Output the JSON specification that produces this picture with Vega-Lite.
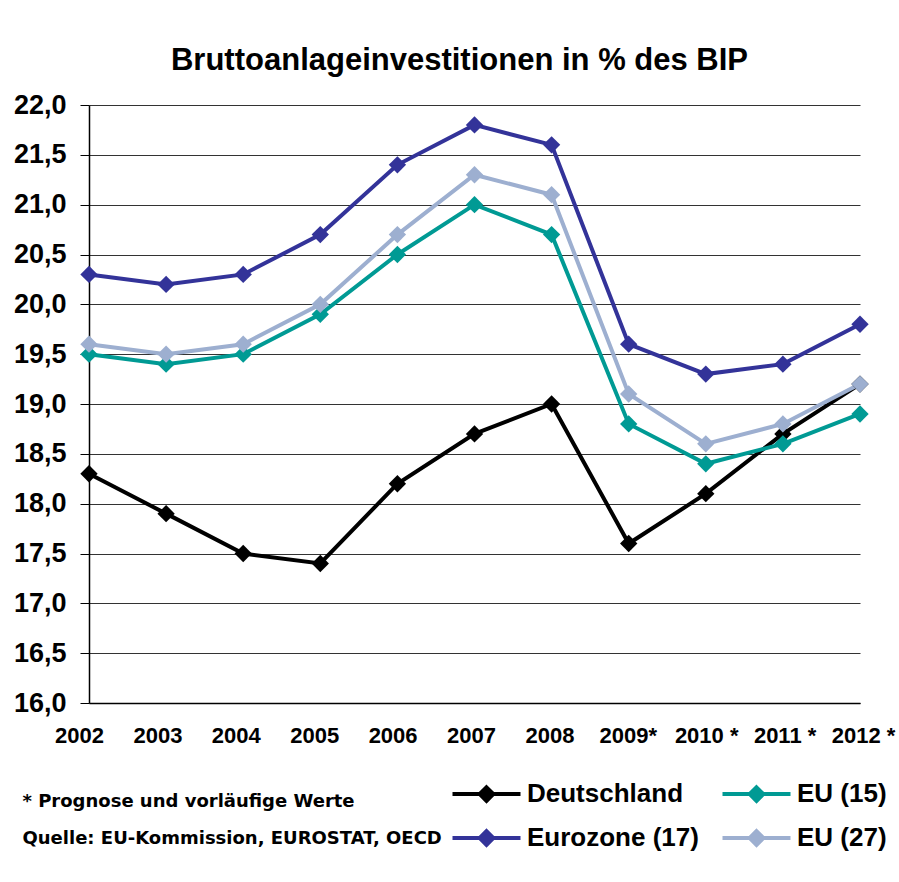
{
  "$schema": "https://vega.github.io/schema/vega-lite/v6.json",
  "width": 771,
  "height": 598,
  "autosize": {"type": "none"},
  "padding": {"left": 89, "top": 105, "right": 39, "bottom": 179},
  "background": "white",
  "config": {"view": {"stroke": null}, "font": "Liberation Sans"},
  "title": {"text": "Bruttoanlageinvestitionen in % des BIP", "fontSize": 31, "font": "Liberation Sans", "fontWeight": "bold", "color": "black", "offset": 14, "dx": -15, "anchor": "middle"},
  "data": {"values": [
    {"year": "2002", "series": "Deutschland", "value": 18.3},
    {"year": "2003", "series": "Deutschland", "value": 17.9},
    {"year": "2004", "series": "Deutschland", "value": 17.5},
    {"year": "2005", "series": "Deutschland", "value": 17.4},
    {"year": "2006", "series": "Deutschland", "value": 18.2},
    {"year": "2007", "series": "Deutschland", "value": 18.7},
    {"year": "2008", "series": "Deutschland", "value": 19.0},
    {"year": "2009*", "series": "Deutschland", "value": 17.6},
    {"year": "2010 *", "series": "Deutschland", "value": 18.1},
    {"year": "2011 *", "series": "Deutschland", "value": 18.7},
    {"year": "2012 *", "series": "Deutschland", "value": 19.2},
    {"year": "2002", "series": "EU (15)", "value": 19.5},
    {"year": "2003", "series": "EU (15)", "value": 19.4},
    {"year": "2004", "series": "EU (15)", "value": 19.5},
    {"year": "2005", "series": "EU (15)", "value": 19.9},
    {"year": "2006", "series": "EU (15)", "value": 20.5},
    {"year": "2007", "series": "EU (15)", "value": 21.0},
    {"year": "2008", "series": "EU (15)", "value": 20.7},
    {"year": "2009*", "series": "EU (15)", "value": 18.8},
    {"year": "2010 *", "series": "EU (15)", "value": 18.4},
    {"year": "2011 *", "series": "EU (15)", "value": 18.6},
    {"year": "2012 *", "series": "EU (15)", "value": 18.9},
    {"year": "2002", "series": "Eurozone (17)", "value": 20.3},
    {"year": "2003", "series": "Eurozone (17)", "value": 20.2},
    {"year": "2004", "series": "Eurozone (17)", "value": 20.3},
    {"year": "2005", "series": "Eurozone (17)", "value": 20.7},
    {"year": "2006", "series": "Eurozone (17)", "value": 21.4},
    {"year": "2007", "series": "Eurozone (17)", "value": 21.8},
    {"year": "2008", "series": "Eurozone (17)", "value": 21.6},
    {"year": "2009*", "series": "Eurozone (17)", "value": 19.6},
    {"year": "2010 *", "series": "Eurozone (17)", "value": 19.3},
    {"year": "2011 *", "series": "Eurozone (17)", "value": 19.4},
    {"year": "2012 *", "series": "Eurozone (17)", "value": 19.8},
    {"year": "2002", "series": "EU (27)", "value": 19.6},
    {"year": "2003", "series": "EU (27)", "value": 19.5},
    {"year": "2004", "series": "EU (27)", "value": 19.6},
    {"year": "2005", "series": "EU (27)", "value": 20.0},
    {"year": "2006", "series": "EU (27)", "value": 20.7},
    {"year": "2007", "series": "EU (27)", "value": 21.3},
    {"year": "2008", "series": "EU (27)", "value": 21.1},
    {"year": "2009*", "series": "EU (27)", "value": 19.1},
    {"year": "2010 *", "series": "EU (27)", "value": 18.6},
    {"year": "2011 *", "series": "EU (27)", "value": 18.8},
    {"year": "2012 *", "series": "EU (27)", "value": 19.2}
  ]},
  "encoding": {
    "x": {
      "field": "year", "type": "ordinal",
      "sort": ["2002", "2003", "2004", "2005", "2006", "2007", "2008", "2009*", "2010 *", "2011 *", "2012 *"],
      "scale": {"type": "point", "padding": 0},
      "axis": {
        "title": ["* Prognose und vorläufige Werte", "Quelle: EU-Kommission, EUROSTAT, OECD"],
        "titleAnchor": "start", "titleAlign": "left", "titleBaseline": "top",
        "titleX": -67, "titleY": 89, "titleLineHeight": 37,
        "titleFontSize": 18, "titleFontWeight": "bold", "titleColor": "black", "titleFont": "DejaVu Sans",
        "labelAngle": 0, "labelFontSize": 22, "labelFontWeight": "bold", "labelColor": "black", "labelFont": "Liberation Sans",
        "labelPadding": 22, "ticks": false, "domain": true, "domainColor": "black", "domainWidth": 1.5, "grid": false,
        "labelOffset": {"expr": "-10 + 13 * datum.index"}
      }
    },
    "y": {
      "field": "value", "type": "quantitative",
      "scale": {"domain": [16, 22], "nice": false, "zero": false},
      "axis": {
        "title": null,
        "values": [16, 16.5, 17, 17.5, 18, 18.5, 19, 19.5, 20, 20.5, 21, 21.5, 22],
        "labelExpr": "replace(format(datum.value, '.1f'), '.', ',')",
        "labelFontSize": 27, "labelFontWeight": "bold", "labelColor": "black", "labelFont": "Liberation Sans",
        "labelPadding": 14, "tickSize": 9, "tickColor": "black", "domainColor": "black", "domainWidth": 1.5,
        "grid": true, "gridColor": "#333333", "gridWidth": 1
      }
    },
    "color": {
      "field": "series", "type": "nominal",
      "scale": {"domain": ["Deutschland", "Eurozone (17)", "EU (15)", "EU (27)"], "range": ["#000000", "#333399", "#009A94", "#9DAFD0"]},
      "legend": {
        "orient": "none", "legendX": 359, "legendY": 676, "columns": 2, "title": null,
        "labelFontSize": 26, "labelFontWeight": "bold", "labelColor": "black", "labelFont": "Liberation Sans", "labelLimit": 400,
        "symbolType": "M-1,0H7M3,-0.8L3.8,0L3,0.8L2.2,0Z", "symbolSize": 289, "symbolStrokeWidth": 4,
        "labelOffset": 53, "columnPadding": 15, "rowPadding": 14, "padding": 0,
        "encode": {"symbols": {"update": {"fill": {"scale": "color", "field": "value"}, "stroke": {"scale": "color", "field": "value"}, "strokeWidth": {"value": 4}, "opacity": {"value": 1}}}}
      }
    }
  },
  "layer": [
    {"mark": {"type": "line", "strokeWidth": 4}},
    {"mark": {"type": "point", "shape": "diamond", "filled": true, "size": 300, "opacity": 1}}
  ]
}
